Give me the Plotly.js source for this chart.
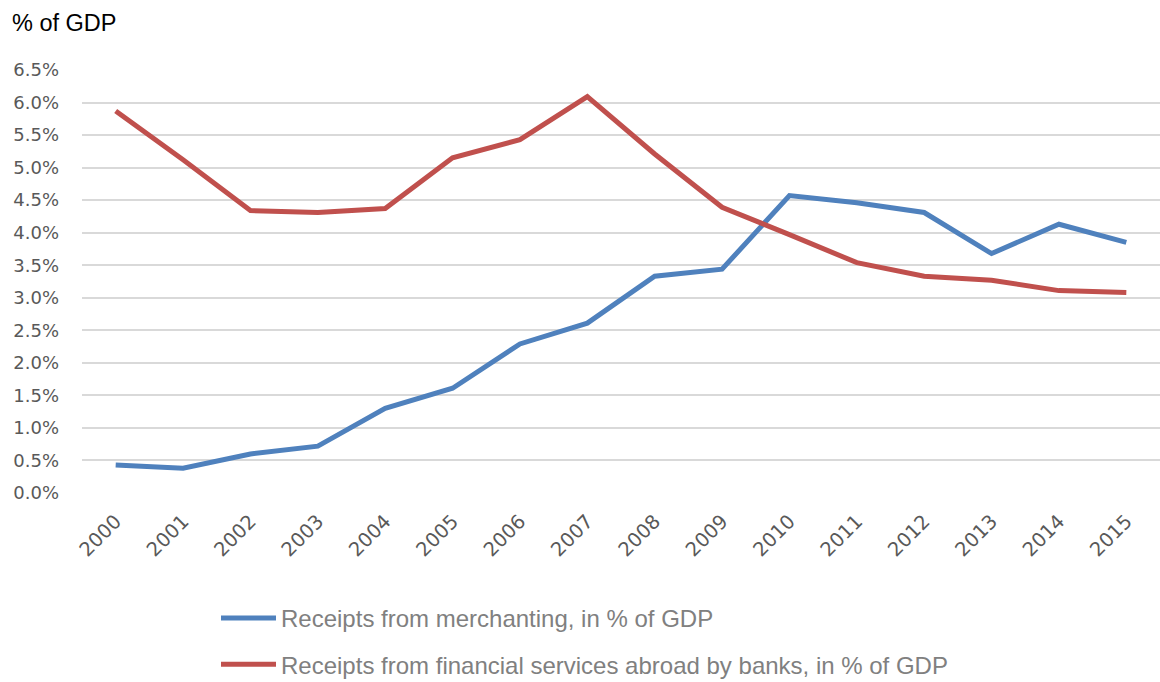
<!DOCTYPE html>
<html>
<head>
<meta charset="utf-8">
<script src="https://cdn.plot.ly/plotly-3.0.1.min.js"></script>
<style>html,body{margin:0;padding:0;background:#fff;}#chart{width:1160px;height:682px;}</style>
</head>
<body>
<div id="chart"></div>
<script>
const years = ['2000','2001','2002','2003','2004','2005','2006','2007','2008','2009','2010','2011','2012','2013','2014','2015'];
const merchanting = [0.43, 0.38, 0.60, 0.72, 1.30, 1.61, 2.29, 2.61, 3.33, 3.44, 4.57, 4.46, 4.31, 3.68, 4.13, 3.85];
const financialServices = [5.87, 5.12, 4.34, 4.31, 4.37, 5.15, 5.43, 6.09, 5.21, 4.39, 3.97, 3.54, 3.33, 3.27, 3.11, 3.08];
const yTickVals = [0,0.5,1,1.5,2,2.5,3,3.5,4,4.5,5,5.5,6,6.5];
const yTickText = ['0.0%','0.5%','1.0%','1.5%','2.0%','2.5%','3.0%','3.5%','4.0%','4.5%','5.0%','5.5%','6.0%','6.5%'];

const traces = [
  {x: years, y: merchanting, type:'scatter', mode:'lines', name:'Receipts from merchanting, in % of GDP',
   line:{color:'#4f81bd', width:5}, legendgroup:'a'},
  {x: years, y: financialServices, type:'scatter', mode:'lines', name:'Receipts from financial services abroad by banks, in % of GDP',
   line:{color:'#c0504d', width:5}, legendgroup:'b'}
];

const layout = {
  width:1160, height:682,
  margin:{l:82, r:0, t:69.5, b:188.5, autoexpand:false},
  paper_bgcolor:'#fff', plot_bgcolor:'#fff',
  showlegend:true,
  xaxis:{type:'category', range:[-0.5,15.5], tickangle:-45, showgrid:false, showline:false, zeroline:false, automargin:false,
         ticks:'', ticklabelstandoff:12, tickfont:{family:'DejaVu Sans', size:19.5, color:'#595959'}, fixedrange:true},
  yaxis:{range:[0,6.5], tickvals:yTickVals, ticktext:yTickText, showgrid:true, gridcolor:'#d9d9d9', gridwidth:2,
         zeroline:false, showline:false, ticks:'', ticklabelstandoff:22, automargin:false,
         tickfont:{family:'DejaVu Sans', size:18, color:'#595959'}, fixedrange:true},
  legend:{orientation:'v', xref:'container', yref:'container', x:216/1160, xanchor:'left', y:(682-596)/682, yanchor:'top',
          traceorder:'grouped', tracegroupgap:12,
          itemwidth:55, font:{family:'Liberation Sans', size:24, color:'#808080'}},
  annotations:[{text:'% of GDP', xref:'paper', yref:'paper', x:0, y:1, xshift:-72, yshift:47, xanchor:'left', yanchor:'middle',
                showarrow:false, font:{family:'Liberation Sans', size:23.5, color:'#000'}}]
};
Plotly.newPlot('chart', traces, layout, {displayModeBar:false, staticPlot:true});
</script>
</body>
</html>
